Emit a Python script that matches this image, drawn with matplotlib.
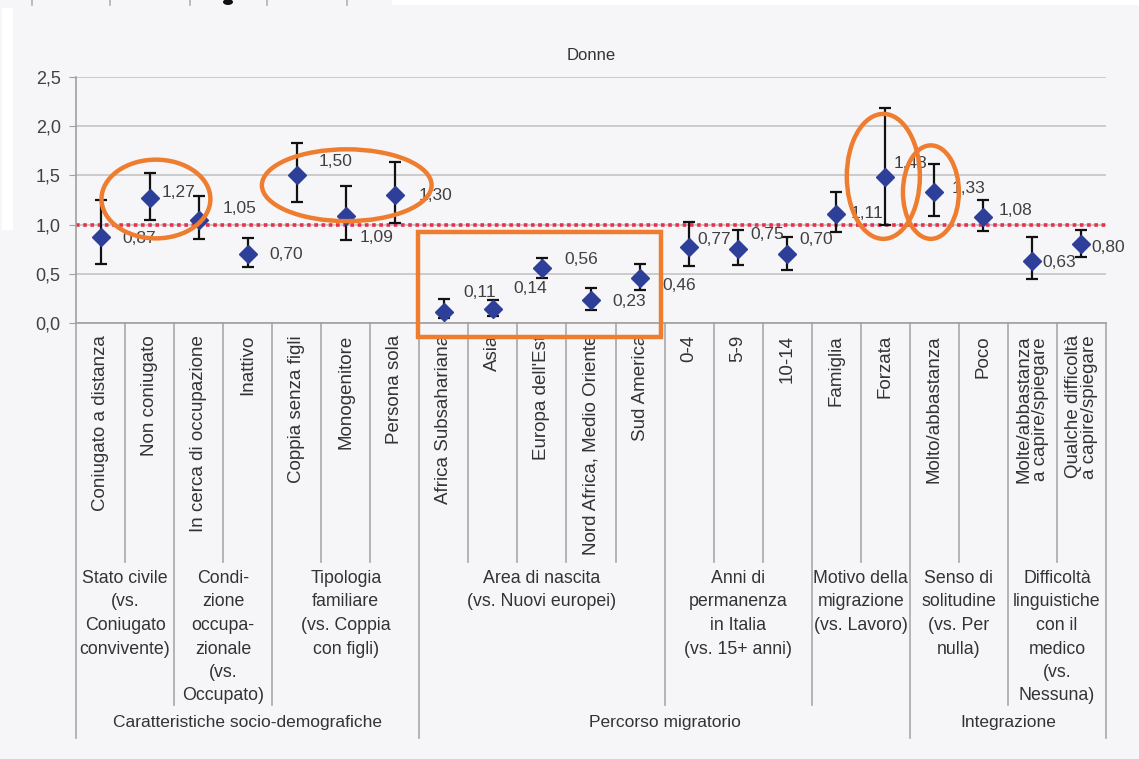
import matplotlib.pyplot as plt
from matplotlib.patches import Ellipse, Rectangle
from matplotlib.transforms import blended_transform_factory

plt.rcParams['font.family'] = ['Liberation Sans', 'DejaVu Sans']

# ---- data (odds ratios with 95% CI) ----
categories = [
    "Coniugato a distanza", "Non coniugato",
    "In cerca di occupazione", "Inattivo",
    "Coppia senza figli", "Monogenitore", "Persona sola",
    "Africa Subsahariana", "Asia", "Europa dell'Est",
    "Nord Africa, Medio Oriente", "Sud America",
    "0-4", "5-9", "10-14",
    "Famiglia", "Forzata",
    "Molto/abbastanza", "Poco",
    "Molte/abbastanza\na capire/spiegare",
    "Qualche difficoltà\na capire/spiegare",
]
odds = [0.87, 1.27, 1.05, 0.70, 1.50, 1.09, 1.30,
        0.11, 0.14, 0.56, 0.23, 0.46,
        0.77, 0.75, 0.70, 1.11, 1.48,
        1.33, 1.08, 0.63, 0.80]
ci_low = [0.60, 1.05, 0.85, 0.57, 1.23, 0.84, 1.02,
          0.05, 0.07, 0.46, 0.13, 0.34,
          0.58, 0.59, 0.54, 0.92, 1.00,
          1.09, 0.93, 0.45, 0.67]
ci_high = [1.25, 1.52, 1.29, 0.86, 1.83, 1.39, 1.64,
           0.24, 0.23, 0.66, 0.36, 0.60,
           1.03, 0.95, 0.87, 1.33, 2.19,
           1.62, 1.25, 0.87, 0.95]

groups = [
    "Stato civile\n(vs.\nConiugato\nconvivente)",
    "Condi-\nzione\noccupa-\nzionale\n(vs.\nOccupato)",
    "Tipologia\nfamiliare\n(vs. Coppia\ncon figli)",
    "Area di nascita\n(vs. Nuovi europei)",
    "Anni di\npermanenza\nin Italia\n(vs. 15+ anni)",
    "Motivo della\nmigrazione\n(vs. Lavoro)",
    "Senso di\nsolitudine\n(vs. Per\nnulla)",
    "Difficoltà\nlinguistiche\ncon il\nmedico\n(vs.\nNessuna)",
]
group_sizes = [2, 2, 3, 5, 3, 2, 2, 2]
macros = ["Caratteristiche socio-demografiche", "Percorso migratorio", "Integrazione"]
macro_sizes = [7, 10, 4]  # number of categories per macro area
y_ticks = [0.0, 0.5, 1.0, 1.5, 2.0, 2.5]

# value-label offsets in pixels, (right, up) from the marker (layout only)
label_offsets = [(22, -1), (12, 6), (24, 11), (22, 0), (22, 14), (14, -22), (24, 0),
                 (20, 20), (20, 21), (22, 8), (21, -1), (22, -8),
                 (8, 8), (12, 15), (12, 15), (14, 0), (8, 14),
                 (17, 4), (15, 6), (10, -1), (10, -3)]

W, H = 1139, 759
bg = '#f6f6f9'
fig = plt.figure(figsize=(W / 100, H / 100), dpi=100, facecolor=bg)
ax = fig.add_axes([76 / W, 1 - 323 / H, (1106 - 76) / W, (323 - 77) / H])
ax.set_facecolor(bg)

n = len(categories)
xs = list(range(n))
ax.set_xlim(-0.5, n - 0.5)
ax.set_ylim(0, 2.5)
ax.set_yticks(y_ticks)
ax.set_yticklabels([f"{t:.1f}".replace('.', ',') for t in y_ticks],
                   fontsize=13, color='#404040')
ax.set_xticks([])
ax.tick_params(axis='y', length=5, color='#a0a0a0', pad=6)
for s in ['top', 'right']:
    ax.spines[s].set_visible(False)
for s in ['left', 'bottom']:
    ax.spines[s].set_color('#a0a0a0')
    ax.spines[s].set_linewidth(1.2)
ax.yaxis.grid(True, color='#c8c8c8', lw=1.3)
ax.set_axisbelow(True)

ax.axhline(1.0, color='#e8304a', lw=2.6, ls=(0, (1, 1)), zorder=2)

yerr = [[o - l for o, l in zip(odds, ci_low)], [h - o for o, h in zip(odds, ci_high)]]
ax.errorbar(xs, odds, yerr=yerr, fmt='D', color='#2e3f9a', markersize=9,
            ecolor='#111111', elinewidth=1.6, capsize=4.5, capthick=1.6, zorder=3)

for x, v, (dx, dy) in zip(xs, odds, label_offsets):
    ax.annotate(f"{v:.2f}".replace('.', ','), (x, v), xytext=(dx, dy),
                textcoords='offset pixels', ha='left', va='center',
                fontsize=12.5, color='#404040', zorder=4)

ax.set_title("Donne", fontsize=12, color='#333333', pad=12)

# ---- category table below the axis ----
trans = blended_transform_factory(ax.transData, fig.transFigure)
fy = lambda py: 1 - py / H
line_kw = dict(transform=trans, clip_on=False, color='#a8a8a8', lw=1.2)

for x, lab in zip(xs, categories):
    ax.text(x, fy(335), lab, transform=trans, rotation=90, ha='center', va='top',
            fontsize=13.5, color='#333333', linespacing=0.95)

macro_bounds = [-0.5]
for s in macro_sizes:
    macro_bounds.append(macro_bounds[-1] + s)
group_bounds = [-0.5]
for s in group_sizes:
    group_bounds.append(group_bounds[-1] + s)

for b in [i - 0.5 for i in range(n + 1)]:
    if b in macro_bounds:
        bottom = 738
    elif b in group_bounds:
        bottom = 705
    else:
        bottom = 562
    ax.plot([b, b], [fy(323), fy(bottom)], **line_kw)

for lab, a, b in zip(groups, group_bounds[:-1], group_bounds[1:]):
    ax.text((a + b) / 2, fy(570), lab, transform=trans, ha='center', va='top',
            fontsize=12.8, color='#333333', linespacing=1.5)

for lab, a, b in zip(macros, macro_bounds[:-1], macro_bounds[1:]):
    ax.text((a + b) / 2, fy(722), lab, transform=trans, ha='center', va='center',
            fontsize=12.5, color='#333333')

# ---- orange highlights drawn over the chart ----
hl = dict(fill=False, edgecolor='#ee7d2f', lw=3.2, clip_on=False, zorder=6)
ax.add_patch(Ellipse((1.13, 1.26), 2.22, 0.80, **hl))
ax.add_patch(Ellipse((5.02, 1.40), 3.46, 0.73, **hl))
ax.add_patch(Ellipse((15.96, 1.49), 1.49, 1.27, **hl))
ax.add_patch(Ellipse((16.93, 1.33), 1.14, 0.95, **hl))
ax.add_patch(Rectangle((6.47, -0.14), 4.96, 1.06, **hl))

# ---- screenshot edges: white strips and tab marks at the top ----
fig.patches.append(Rectangle((2 / W, fy(230)), 11 / W, (230 - 8) / H, transform=fig.transFigure,
                             facecolor='white', edgecolor='none'))
fig.patches.append(Rectangle((392 / W, fy(5)), 1 - 392 / W, 5 / H, transform=fig.transFigure,
                             facecolor='white', edgecolor='none'))
for px in [32, 110, 190, 267, 347]:
    fig.lines.append(plt.Line2D([px / W, px / W], [1, fy(5)], transform=fig.transFigure,
                                color='#b0b0b0', lw=1.2))
fig.patches.append(Ellipse((228 / W, fy(2)), 10 / W, 6 / H, transform=fig.transFigure,
                           facecolor='#111111', edgecolor='none'))

fig.savefig("out.png", dpi=100, facecolor=fig.get_facecolor())
